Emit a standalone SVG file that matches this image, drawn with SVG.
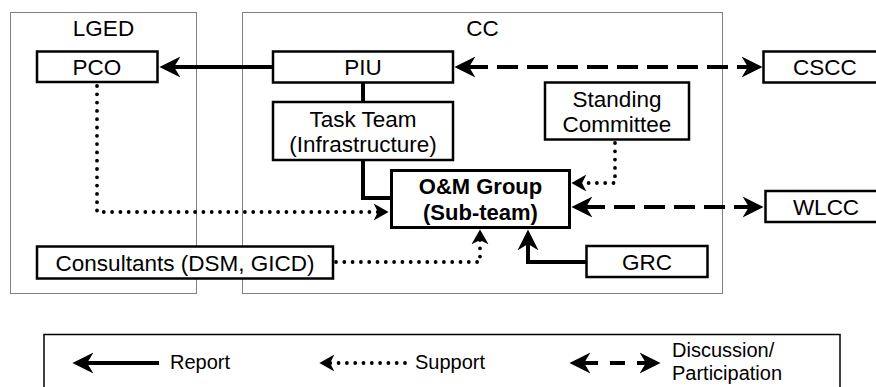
<svg xmlns="http://www.w3.org/2000/svg" width="876" height="387" viewBox="0 0 876 387">
  <style>
    .grp { fill: none; stroke: #000; stroke-width: 1; stroke-dasharray: 1 1; }
    .box { fill: #fff; stroke: #000; stroke-width: 2.5; }
    .obox { fill: #fff; stroke: #000; stroke-width: 3; }
    .t { font-family: "Liberation Sans", Arial, sans-serif; font-size: 22.5px; fill: #000; text-anchor: middle; }
    .tb { font-family: "Liberation Sans", Arial, sans-serif; font-size: 22px; font-weight: bold; fill: #000; text-anchor: middle; }
    .lt { font-family: "Liberation Sans", Arial, sans-serif; font-size: 20px; fill: #000; }
    .solid { fill: none; stroke: #000; stroke-width: 4; }
    .dot { fill: none; stroke: #000; stroke-width: 3.8; stroke-linecap: round; stroke-dasharray: 0 8.3; }
    .dash { fill: none; stroke: #000; stroke-width: 4; stroke-dasharray: 21 9; }
    .legend { fill: #fff; stroke: #000; stroke-width: 1.5; }
  </style>
  <defs>
    <marker id="head" markerUnits="userSpaceOnUse" markerWidth="22" markerHeight="24" viewBox="0 -11 21 22" refX="8" refY="0" orient="auto-start-reverse">
      <path d="M0,-10 L20,0 L0,10 L6,0 Z" fill="#000"/>
    </marker>
    <marker id="small" markerUnits="userSpaceOnUse" markerWidth="16" markerHeight="20" viewBox="0 -9 15 18" refX="5" refY="0" orient="auto-start-reverse">
      <path d="M0,-8 L14,0 L0,8 L4,0 Z" fill="#000"/>
    </marker>
  </defs>

  <rect width="876" height="387" fill="#fff"/>

  <!-- organisation frames -->
  <g id="lged">
    <rect class="grp" x="10.5" y="12.5" width="186" height="281"/>
    <text class="t" x="103.5" y="35.5">LGED</text>
  </g>
  <g id="cc">
    <rect class="grp" x="242.5" y="12.5" width="480" height="281"/>
    <text class="t" x="482.5" y="35.5">CC</text>
  </g>

  <!-- connectors -->
  <g id="connectors">
    <path class="solid" d="M272,67 H172" marker-end="url(#head)"/>
    <path class="solid" d="M363,83 V101"/>
    <path class="solid" d="M363,161 V198 H390"/>
    <path class="solid" d="M586,262 H528 V242" marker-end="url(#head)"/>
    <path class="dot" d="M97,86 V212 H379" marker-end="url(#small)"/>
    <path class="dot" d="M336,262 H480 V239" marker-end="url(#small)"/>
    <path class="dot" d="M615,143 V183 H581" marker-end="url(#small)"/>
    <path class="dash" d="M467,67 H750" marker-start="url(#head)" marker-end="url(#head)"/>
    <path class="dash" d="M584,207 H751" marker-start="url(#head)" marker-end="url(#head)"/>
  </g>

  <!-- nodes -->
  <g id="pco">
    <rect class="box" x="37" y="51.5" width="120.5" height="30.5"/>
    <text class="t" x="97" y="74.5">PCO</text>
  </g>
  <g id="piu">
    <rect class="box" x="273" y="51.5" width="180" height="31"/>
    <text class="t" x="363" y="74.5">PIU</text>
  </g>
  <g id="cscc">
    <rect class="box" x="763.5" y="51.5" width="124" height="31"/>
    <text class="t" x="825" y="74.5">CSCC</text>
  </g>
  <g id="task-team">
    <rect class="box" x="273" y="102" width="180" height="58"/>
    <text class="t" x="363" y="126.5">Task Team</text>
    <text class="t" x="363" y="151.5">(Infrastructure)</text>
  </g>
  <g id="standing-committee">
    <rect class="box" x="545" y="82.5" width="144" height="57"/>
    <text class="t" x="617" y="106.5">Standing</text>
    <text class="t" x="617" y="131.5">Committee</text>
  </g>
  <g id="om-group">
    <rect class="obox" x="391.5" y="170.5" width="178" height="57"/>
    <text class="tb" x="480.5" y="194">O&amp;M Group</text>
    <text class="tb" x="480.5" y="220">(Sub-team)</text>
  </g>
  <g id="wlcc">
    <rect class="box" x="765.5" y="191" width="124" height="31"/>
    <text class="t" x="826" y="214.5">WLCC</text>
  </g>
  <g id="consultants">
    <rect class="box" x="37" y="246.5" width="296" height="32"/>
    <text class="t" x="185" y="270.5">Consultants (DSM, GICD)</text>
  </g>
  <g id="grc">
    <rect class="box" x="586.5" y="246" width="121" height="31"/>
    <text class="t" x="647" y="269.5">GRC</text>
  </g>

  <!-- key -->
  <g id="key">
    <rect class="legend" x="44" y="334.5" width="796" height="60"/>
    <path class="solid" d="M159,363 H85" marker-end="url(#head)"/>
    <text class="lt" x="170" y="369">Report</text>
    <path class="dot" d="M405,363 H329" marker-end="url(#small)"/>
    <text class="lt" x="415" y="369">Support</text>
    <path class="solid" d="M598,363 H582" marker-end="url(#head)"/>
    <path class="solid" d="M610,363 H625"/>
    <path class="solid" d="M637,363 H648" marker-end="url(#head)"/>
    <text class="lt" x="672" y="357">Discussion/</text>
    <text class="lt" x="672" y="380">Participation</text>
  </g>
</svg>
